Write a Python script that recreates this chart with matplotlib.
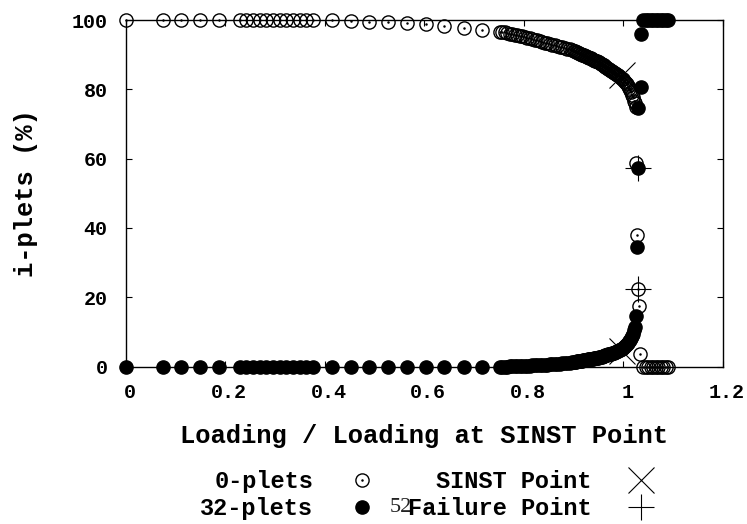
import matplotlib
matplotlib.use("Agg")
import matplotlib.pyplot as plt
from matplotlib.legend_handler import HandlerTuple
from matplotlib.transforms import ScaledTranslation

plt.rcParams["font.family"] = ["Liberation Mono", "DejaVu Sans Mono"]
plt.rcParams["font.weight"] = "bold"
plt.rcParams["axes.labelweight"] = "bold"
plt.rcParams["font.size"] = 18

# ---- data -------------------------------------------------------------
# loading steps (normalised by the loading at the SINST point)
load_sparse = [0.0, 0.075, 0.112, 0.15, 0.187,
               0.230, 0.243, 0.256, 0.270, 0.283, 0.296, 0.310, 0.323,
               0.336, 0.350, 0.363, 0.376,
               0.414, 0.452, 0.49, 0.528, 0.566, 0.603, 0.64, 0.679, 0.716]
plets0_sparse = [100, 100, 100, 100, 100,
                 100, 100, 100, 100, 100, 100, 100, 100,
                 100, 100, 100, 100,
                 100, 99.8, 99.5, 99.3, 99.0, 98.8, 98.3, 97.8, 97.1]
plets32_sparse = [0, 0, 0, 0, 0,
                  0, 0, 0, 0, 0, 0, 0, 0,
                  0, 0, 0, 0,
                  0, 0, 0, 0, 0, 0, 0, 0, 0]

load_mid = [0.752, 0.757, 0.762, 0.767, 0.772, 0.777, 0.782, 0.787, 0.792,
            0.797, 0.802, 0.807, 0.812, 0.817, 0.822, 0.827, 0.832, 0.837,
            0.842, 0.847, 0.852, 0.857, 0.862, 0.867, 0.872, 0.877, 0.882,
            0.887, 0.892, 0.897]
plets0_mid = [96.6, 96.5, 96.4, 96.2, 96.1, 96.0, 95.8, 95.6, 95.5,
              95.3, 95.1, 94.9, 94.7, 94.5, 94.3, 94.1, 93.9, 93.7,
              93.5, 93.3, 93.1, 92.9, 92.7, 92.5, 92.3, 92.1, 91.9,
              91.7, 91.5, 91.3]
plets32_mid = [0.0, 0.0, 0.0, 0.0, 0.05, 0.05, 0.1, 0.1, 0.1,
               0.15, 0.2, 0.2, 0.25, 0.3, 0.3, 0.35, 0.4, 0.45,
               0.5, 0.55, 0.6, 0.65, 0.7, 0.75, 0.8, 0.9, 0.95,
               1.0, 1.1, 1.2]

load_late = [0.900, 0.902, 0.904, 0.906, 0.908, 0.910, 0.912, 0.914, 0.916,
             0.918, 0.920, 0.922, 0.924, 0.926, 0.928, 0.930, 0.932, 0.934,
             0.936, 0.938, 0.940, 0.942, 0.944, 0.946, 0.948, 0.950, 0.952,
             0.954, 0.956, 0.958, 0.960, 0.962, 0.964, 0.966, 0.968, 0.970,
             0.972, 0.974, 0.976, 0.978, 0.980, 0.982, 0.984, 0.986, 0.988,
             0.990, 0.992, 0.994, 0.996, 0.998, 1.000, 1.002, 1.004, 1.006,
             1.008, 1.010, 1.012, 1.014, 1.016, 1.018, 1.020, 1.022]
plets0_late = [91.1, 91.0, 90.8, 90.7, 90.6, 90.4, 90.3, 90.2, 90.0,
               89.9, 89.8, 89.6, 89.5, 89.4, 89.3, 89.1, 89.0, 88.9,
               88.7, 88.6, 88.5, 88.3, 88.2, 88.1, 87.9, 87.8, 87.6,
               87.4, 87.2, 87.1, 86.9, 86.7, 86.5, 86.3, 86.1, 85.9,
               85.8, 85.6, 85.4, 85.2, 85.0, 84.8, 84.6, 84.4, 84.2,
               84.0, 83.8, 83.5, 83.3, 83.1, 82.9, 82.5, 82.1, 81.8,
               81.4, 81.0, 80.4, 79.7, 79.1, 78.4, 77.8, 76.6]
plets32_late = [1.30, 1.35, 1.40, 1.46, 1.51, 1.56, 1.61, 1.66, 1.72,
                1.77, 1.82, 1.87, 1.92, 1.98, 2.03, 2.08, 2.13, 2.18,
                2.24, 2.29, 2.34, 2.39, 2.44, 2.50, 2.55, 2.60, 2.69,
                2.77, 2.86, 2.95, 3.03, 3.12, 3.21, 3.29, 3.38, 3.47,
                3.55, 3.64, 3.73, 3.81, 3.90, 4.04, 4.18, 4.32, 4.46,
                4.60, 4.74, 4.88, 5.02, 5.16, 5.30, 5.58, 5.86, 6.14,
                6.42, 6.70, 7.24, 7.78, 8.32, 8.86, 9.40, 10.40]

# steps around failure
load_fail0 = [1.024, 1.025, 1.025, 1.028, 1.030, 1.031, 1.033]
plets0_fail = [76.0, 75.0, 58.8, 38.0, 22.4, 17.6, 3.7]
load_fail32 = [1.024, 1.026, 1.028, 1.030, 1.030, 1.036, 1.036]
plets32_fail = [11.5, 14.7, 34.5, 57.3, 74.6, 80.7, 96.0]

# post-failure steps
load_post = [1.040, 1.045, 1.050, 1.055, 1.060, 1.065, 1.070, 1.075,
             1.080, 1.085, 1.090]
plets0_post = [0, 0, 0, 0, 0, 0, 0, 0, 0, 0, 0]
plets32_post = [100, 100, 100, 100, 100, 100, 100, 100, 100, 100, 100]

sinst_load = [0.997, 0.997]
sinst_val = [84.0, 4.6]
failure_load = [1.030, 1.030]
failure_val = [57.3, 22.4]

x_ticks = [0, 0.2, 0.4, 0.6, 0.8, 1.0, 1.2]
x_ticklabels = ["0", "0.2", "0.4", "0.6", "0.8", "1", "1.2"]
y_ticks = [0, 20, 40, 60, 80, 100]
y_ticklabels = ["0", "20", "40", "60", "80", "100"]

# ---- figure -----------------------------------------------------------
fig = plt.figure(figsize=(7.47, 5.24), dpi=100)
W, H = 747, 524
ax = fig.add_axes([125.5 / W, (H - 366.5) / H, (723 - 125.5) / W, (366.5 - 20) / H])

load0 = load_sparse + load_mid + load_late + load_fail0 + load_post
val0 = plets0_sparse + plets0_mid + plets0_late + plets0_fail + plets0_post
load32 = load_sparse + load_mid + load_late + load_fail32 + load_post
val32 = plets32_sparse + plets32_mid + plets32_late + plets32_fail + plets32_post

ms = 9.5
h0, = ax.plot(load0, val0, linestyle="none", marker="o", ms=ms,
              mfc="none", mec="black", mew=1.0, clip_on=False, zorder=3)
h0d, = ax.plot(load0, val0, linestyle="none", marker=".", ms=1.6,
               color="black", clip_on=False, zorder=3)
h32, = ax.plot(load32, val32, linestyle="none", marker="o", ms=ms,
               color="black", clip_on=False, zorder=4)
hs, = ax.plot(sinst_load, sinst_val, linestyle="none", marker="x", ms=19,
              mew=0.8, color="black", clip_on=False, zorder=5)
hf, = ax.plot(failure_load, failure_val, linestyle="none", marker="+", ms=19,
              mew=0.8, color="black", clip_on=False, zorder=5)

ax.set_xlim(0, 1.2)
ax.set_ylim(0, 100)
ax.set_xticks(x_ticks)
ax.set_xticklabels(x_ticklabels)
ax.set_yticks(y_ticks)
ax.set_yticklabels(y_ticklabels)
ax.tick_params(direction="in", top=True, right=True, length=4.5, width=0.8,
               labelsize=14.4)
ax.tick_params(axis="x", pad=12)
ax.tick_params(axis="y", pad=13)
for s in ax.spines.values():
    s.set_linewidth(1.0)

shift = ScaledTranslation(4 / 100, 0, fig.dpi_scale_trans)
for lab in ax.get_xticklabels():
    lab.set_transform(lab.get_transform() + shift)

ax.set_xlabel("Loading / Loading at SINST Point", fontsize=18.4, labelpad=16)
ax.set_ylabel("i-plets (%)", fontsize=18.4, labelpad=24)

fig.legend([(h0, h0d), h32, hs, hf],
           ["0-plets", "32-plets", "SINST Point", "Failure Point"],
           handler_map={tuple: HandlerTuple(ndivide=1)},
           ncol=2, markerfirst=False, frameon=False, fontsize=17,
           loc="center", bbox_to_anchor=(430 / W, 1 - 495 / H),
           handlelength=1.6, handletextpad=1.27, columnspacing=1.14,
           labelspacing=0.15, borderpad=0)

fig.text(401 / W, 1 - 508 / H, "52", family="Liberation Serif",
         weight="normal", size=16, ha="center", va="center", color="#222222")

fig.savefig("out.png", dpi=100)
